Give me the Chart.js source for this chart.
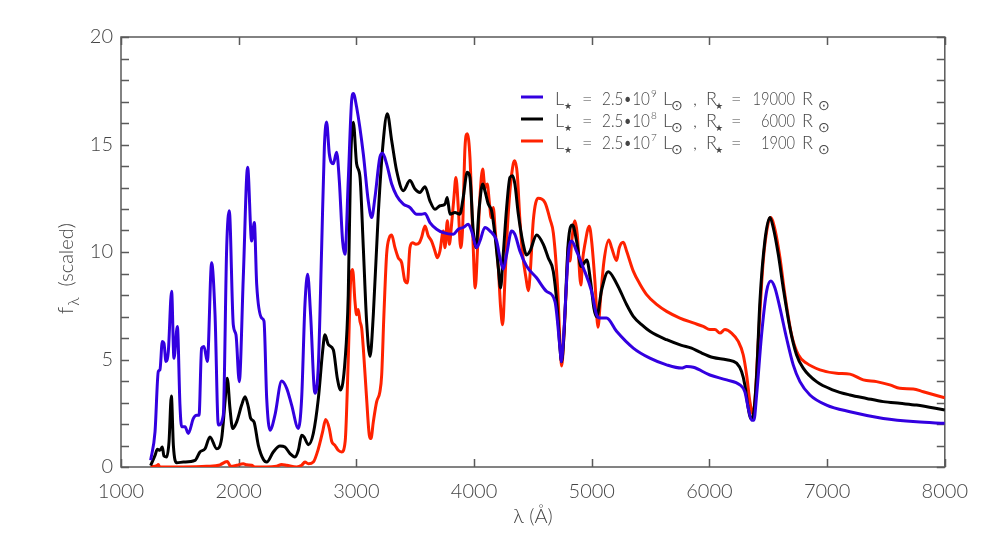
<!DOCTYPE html>
<html>
<head>
<meta charset="utf-8">
<script src="https://cdn.jsdelivr.net/npm/chart.js@4.4.1/dist/chart.umd.min.js"></script>
<style>
  html, body { margin: 0; padding: 0; background: #fff; }
  #wrap { width: 981px; height: 544px; }
</style>
</head>
<body>
<div id="wrap"><canvas id="spec" width="981" height="544"></canvas></div>
<script>
// wavelength (A) and scaled flux
const blueWave = [1252,1289,1317,1331,1351,1365,1382,1402,1430,1450,1479,1501,1515,1544,1572,1615,1643,1663,1685,1705,
  1734,1770,1799,1827,1869,1898,1920,1954,1977,2005,2039,2076,2110,2133,2153,2195,2215,2238,2266,2308,
  2365,2408,2450,2507,2535,2563,2586,2611,2648,2677,2705,2728,2747,2770,2804,2832,2855,2883,2903,2931,
  2960,2974,3002,3059,3101,3130,3158,3200,3223,3257,3300,3342,3399,3455,3512,3554,3583,3625,3682,3739,
  3823,3866,3908,3951,3979,4022,4050,4092,4135,4192,4220,4248,4277,4319,4347,4390,4447,4531,4616,4687,
  4730,4741,4758,4801,4829,4871,4928,4999,5041,5070,5126,5211,5353,5494,5636,5763,5806,5863,6004,6146,
  6259,6301,6330,6358,6378,6401,6443,6486,6522,6556,6599,6655,6712,6769,6854,6995,7194,7477,7760,8000];
const blueFlux = [0.31,1.63,4.44,4.52,5.84,5.76,4.91,5.37,8.18,5.06,6.54,2.88,1.87,1.87,1.56,2.26,2.41,2.41,5.53,5.61,
  4.91,9.50,7.09,1.95,2.41,10.2,11.92,6.62,6.15,3.97,8.8,13.94,10.51,11.37,8.49,6.93,6.78,3.19,1.71,2.41,
  4.0,3.66,2.88,1.79,3.19,7.55,8.96,7.09,3.43,4.75,10.2,14.88,16.05,14.57,14.1,14.64,13.32,10.51,9.89,13.32,
  17.06,17.37,16.74,14.56,12.38,11.6,12.54,14.41,14.59,14.1,13.16,12.62,12.23,12.07,11.76,11.76,11.79,11.37,11.06,10.9,
  10.82,11.06,11.14,11.29,10.98,10.2,10.51,11.14,10.98,10.51,9.73,9.2,9.89,10.98,10.82,10.04,9.34,8.8,8.17,7.71,
  5.53,4.9,5.84,9.89,10.51,10.04,9.27,8.17,7.08,6.93,6.93,6.31,5.53,5.06,4.75,4.6,4.67,4.64,4.28,4.05,
  3.82,3.5,2.73,2.18,2.18,3.35,6.15,8.18,8.65,8.34,7.4,6.0,4.75,3.97,3.35,2.88,2.57,2.26,2.1,2.03];

const blackWave = [1252,1289,1309,1331,1351,1365,1388,1408,1428,1445,1473,1530,1629,1671,1714,1756,1813,1855,1884,1903,
  1926,1949,1983,2025,2054,2082,2102,2130,2167,2209,2238,2294,2351,2393,2436,2478,2507,2535,2555,2592,
  2634,2677,2713,2733,2762,2804,2838,2866,2903,2931,2951,2974,3002,3031,3059,3087,3116,3144,3186,3229,
  3263,3300,3342,3399,3455,3498,3540,3583,3625,3668,3710,3753,3772,3795,3838,3880,3908,3942,3965,3993,
  4016,4044,4073,4092,4121,4149,4177,4206,4225,4248,4277,4305,4327,4347,4376,4418,4447,4475,4532,4588,
  4630,4673,4707,4730,4744,4764,4800,4837,4871,4910,4958,4990,5018,5042,5084,5140,5211,5296,5353,5424,
  5494,5636,5763,5848,5919,6033,6146,6231,6273,6301,6330,6350,6372,6401,6429,6471,6514,6542,6585,6627,
  6684,6740,6797,6910,7052,7194,7335,7477,7618,7760,8000];
const blackFlux = [0.07,0.54,0.82,0.78,0.93,0.51,0.47,1.17,3.3,1.01,0.2,0.23,0.31,0.7,0.85,1.4,0.85,1.32,3.04,4.13,
  2.72,1.79,2.1,2.88,3.27,2.8,2.26,2.1,1.01,0.36,0.23,0.7,0.98,0.93,0.62,0.47,0.78,1.48,1.4,1.04,
  1.56,3.19,5.37,6.15,5.69,5.45,4.13,3.58,4.9,8.0,14.1,16.04,14.1,13.47,10.2,6.77,5.14,7.08,11.76,15.19,
  16.43,15.19,13.78,12.85,13.32,12.93,12.77,13.04,12.38,11.99,12.15,12.23,12.54,11.76,11.84,11.76,12.54,13.71,13.47,10.98,
  10.2,12.07,13.16,12.85,12.23,11.91,10.82,9.27,8.33,9.89,12.07,13.47,13.55,13.16,11.76,10.36,9.86,10.04,10.79,10.36,
  9.73,9.1,7.4,5.53,4.9,6.15,10.4,11.26,10.51,9.32,9.63,8.64,7.4,6.99,8.23,9.08,8.54,7.56,7.01,6.62,
  6.31,5.92,5.66,5.53,5.34,5.09,4.99,4.83,4.44,3.82,2.73,2.26,2.41,4.28,7.71,10.52,11.61,11.14,9.89,8.33,
  6.47,5.22,4.6,3.97,3.58,3.35,3.19,3.04,2.96,2.88,2.65];

const redWave = [1252,1309,1317,1330,1530,1728,1841,1884,1903,1932,1983,2039,2068,2110,2140,2238,2322,2365,2408,2493,
  2535,2563,2592,2634,2677,2713,2739,2770,2790,2818,2846,2875,2905,2931,2951,2968,2988,3002,3016,3031,
  3045,3059,3087,3110,3124,3144,3172,3200,3215,3234,3257,3280,3300,3328,3356,3385,3413,3433,3455,3478,
  3506,3535,3554,3583,3611,3639,3668,3688,3710,3739,3753,3773,3790,3809,3829,3846,3866,3886,3903,3923,
  3942,3965,3988,4010,4030,4050,4073,4093,4112,4129,4146,4163,4180,4206,4226,4243,4262,4282,4305,4333,
  4347,4367,4390,4413,4441,4461,4480,4503,4545,4602,4647,4674,4710,4730,4744,4764,4786,4803,4815,4830,
  4857,4877,4908,4922,4942,4979,4999,5027,5053,5075,5104,5145,5169,5211,5234,5268,5296,5353,5410,5466,
  5551,5636,5749,5863,5947,6004,6047,6089,6132,6188,6245,6287,6316,6344,6367,6386,6415,6457,6500,6520,
  6556,6599,6641,6698,6755,6825,6939,7080,7194,7307,7420,7533,7618,7732,7817,8000];
const redFlux = [0,0.08,0.12,0,0,0.03,0.1,0.23,0.26,0.03,0.08,0.15,0.1,0.08,0,0,0.04,0.12,0.08,0,
  0.08,0.23,0.15,0.23,0.85,1.63,2.21,1.79,1.2,1.01,0.78,0.7,1.2,5.0,8.64,9.19,7.71,7.08,7.32,6.77,
  6.46,5.53,3.19,1.48,1.32,2.1,3.03,3.5,4.28,7.08,9.89,10.67,10.79,10.2,9.73,9.5,8.64,8.56,10.2,10.43,
  10.36,10.43,10.67,11.21,10.75,10.51,10.04,9.73,10.04,10.98,10.2,11.45,10.36,11.29,12.54,13.47,12.07,10.2,11.14,14.87,
  15.5,14.41,10.98,8.33,10.2,12.54,13.86,13.0,13.16,12.38,11.6,12.07,10.98,9.27,7.4,6.62,8.64,10.98,12.85,14.1,
  14.25,13.63,11.45,9.89,8.8,8.2,9.27,11.45,12.5,12.3,11.49,10.87,8.33,5.84,4.7,6.15,8.64,10.36,9.58,10.51,
  11.45,10.82,8.46,9.6,10.36,11.2,10.51,8.64,6.5,7.86,9.58,10.56,10.2,9.6,10.2,10.45,10.05,9.11,8.5,8.02,
  7.56,7.24,6.93,6.7,6.54,6.39,6.39,6.23,6.39,6.23,5.84,5.22,4.28,3.04,2.49,3.04,5.84,9.58,11.37,11.61,
  11.06,9.74,8.02,6.15,5.22,4.83,4.52,4.36,4.32,4.05,3.97,3.82,3.66,3.63,3.5,3.22];

const xTicks = [1000, 2000, 3000, 4000, 5000, 6000, 7000, 8000];
const yTicks = [0, 5, 10, 15, 20];

// legend rows: luminosity exponent, radius
const legendColors = ['#3300e0', '#000000', '#ff2200'];
const legendExp = ['9', '8', '7'];
const legendRadius = ['19000', '6000', '1900'];

const TEXT = '#454545';
const AXIS = '#5a5a5a';
const FONT = 'Lato, "DejaVu Sans", sans-serif';
const SYM = '"DejaVu Sans", sans-serif';

function zip(xs, ys) {
    return xs.map((x, i) => ({ x: x, y: ys[i] }));
}

function series(label, xs, ys, color) {
    return {
        label: label,
        data: zip(xs, ys),
        borderColor: color,
        borderWidth: 3,
        pointRadius: 0,
        fill: false,
        cubicInterpolationMode: 'monotone'
    };
}

// frame with inward ticks on all four sides
const framePlugin = {
    id: 'frame',
    beforeDatasetsDraw(chart) {
        const { ctx, chartArea: a, scales } = chart;
        ctx.save();
        ctx.strokeStyle = AXIS;
        ctx.lineWidth = 1.5;
        ctx.strokeRect(a.left, a.top, a.right - a.left, a.bottom - a.top);
        ctx.beginPath();
        for (let v = 0; v <= 20; v++) {
            const y = Math.round(scales.y.getPixelForValue(v)) + 0.5;
            ctx.moveTo(a.left, y); ctx.lineTo(a.left + 8, y);
            ctx.moveTo(a.right, y); ctx.lineTo(a.right - 8, y);
        }
        xTicks.forEach(v => {
            const x = Math.round(scales.x.getPixelForValue(v)) + 0.5;
            ctx.moveTo(x, a.bottom); ctx.lineTo(x, a.bottom - 8);
            ctx.moveTo(x, a.top); ctx.lineTo(x, a.top + 8);
        });
        ctx.stroke();
        ctx.restore();
    }
};

// draw a text piece; maxW squeezes it to the width seen in the figure
function put(ctx, s, x, y, size, family, maxW) {
    ctx.font = '300 ' + size + 'px ' + (family || FONT);
    if (maxW) ctx.fillText(s, x, y, maxW);
    else ctx.fillText(s, x, y);
    return x + Math.min(ctx.measureText(s).width, maxW || 1e9);
}

// axis titles and the legend box
const textPlugin = {
    id: 'texts',
    afterDraw(chart) {
        const ctx = chart.ctx;
        ctx.save();
        ctx.fillStyle = TEXT;
        ctx.textBaseline = 'alphabetic';
        ctx.textAlign = 'left';

        // x title
        ctx.font = '300 20px ' + FONT;
        const xt = 'λ (Å)';
        ctx.fillText(xt, 533 - ctx.measureText(xt).width / 2, 523);

        // y title, rotated
        ctx.save();
        ctx.translate(73, 314);
        ctx.rotate(-Math.PI / 2);
        let p = put(ctx, 'f', 0, 0, 21);
        p = put(ctx, 'λ', p + 1, 6, 16);
        put(ctx, '  (scaled)', p, 0, 20);
        ctx.restore();

        // legend
        const rows = [97, 119, 141];
        rows.forEach((ly, i) => {
            const b = ly + 8;
            ctx.strokeStyle = legendColors[i];
            ctx.lineWidth = 3;
            ctx.beginPath();
            ctx.moveTo(521, ly); ctx.lineTo(543, ly);
            ctx.stroke();

            put(ctx, 'L', 555, b, 18);
            put(ctx, '★', 564, b + 4, 9, SYM);
            put(ctx, '=', 582, b, 18, FONT, 11);
            put(ctx, '2.5•10', 602, b, 18, FONT, 48);
            put(ctx, legendExp[i], 651, b - 8, 10);
            put(ctx, 'L', 663, b, 18);
            put(ctx, '⊙', 671, b + 5, 14, SYM);
            put(ctx, ',', 693, b, 18);
            put(ctx, 'R', 706, b, 18);
            put(ctx, '★', 715, b + 4, 9, SYM);
            put(ctx, '=', 731, b, 18, FONT, 11);
            const r = legendRadius[i];
            const rw = r.length * 8.5;
            put(ctx, r, 795 - rw, b, 18, FONT, rw);
            put(ctx, 'R', 802, b, 18);
            put(ctx, '⊙', 818, b + 5, 14, SYM);
        });
        ctx.restore();
    }
};

new Chart(document.getElementById('spec'), {
    type: 'line',
    data: {
        datasets: [
            series('blue', blueWave, blueFlux, legendColors[0]),
            series('black', blackWave, blackFlux, legendColors[1]),
            series('red', redWave, redFlux, legendColors[2])
        ]
    },
    options: {
        responsive: false,
        animation: false,
        devicePixelRatio: 1,
        layout: { padding: { left: 0, right: 36, top: 37, bottom: 0 } },
        plugins: { legend: { display: false }, tooltip: { enabled: false } },
        scales: {
            x: {
                type: 'linear',
                min: 1000,
                max: 8000,
                afterFit: s => { s.height = 77; },
                afterBuildTicks: s => { s.ticks = xTicks.map(v => ({ value: v })); },
                grid: { display: false, drawTicks: false },
                border: { display: false },
                ticks: {
                    padding: 13,
                    color: TEXT,
                    maxRotation: 0,
                    font: { family: FONT, size: 20, weight: '300' },
                    callback: v => String(v)
                }
            },
            y: {
                type: 'linear',
                min: 0,
                max: 20,
                afterFit: s => { s.width = 121; },
                afterBuildTicks: s => { s.ticks = yTicks.map(v => ({ value: v })); },
                grid: { display: false, drawTicks: false },
                border: { display: false },
                ticks: {
                    padding: 8,
                    color: TEXT,
                    font: { family: FONT, size: 20, weight: '300' },
                    callback: v => String(v)
                }
            }
        }
    },
    plugins: [framePlugin, textPlugin]
});
</script>
</body>
</html>
